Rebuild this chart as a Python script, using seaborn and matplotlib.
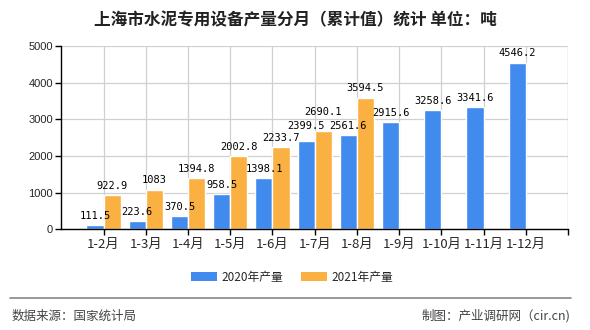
import matplotlib
matplotlib.use("Agg")
import matplotlib.pyplot as plt
from matplotlib.patches import Patch
import seaborn as sns
import pandas as pd
import numpy as np

months = ["1-2月", "1-3月", "1-4月", "1-5月", "1-6月", "1-7月", "1-8月",
          "1-9月", "1-10月", "1-11月", "1-12月"]
prod_2020 = [111.5, 223.6, 370.5, 958.5, 1398.1, 2399.5, 2561.6,
             2915.6, 3258.6, 3341.6, 4546.2]
prod_2021 = [922.9, 1083, 1394.8, 2002.8, 2233.7, 2690.1, 3594.5,
             None, None, None, None]
series_names = ["2020年产量", "2021年产量"]
y_ticks = [0, 1000, 2000, 3000, 4000, 5000]
title = "上海市水泥专用设备产量分月（累计值）统计 单位：吨"
source_left = "数据来源：国家统计局"
source_right = "制图：产业调研网（cir.cn)"

rows = []
for m, a, b in zip(months, prod_2020, prod_2021):
    rows.append({"month": m, "series": series_names[0], "value": a})
    rows.append({"month": m, "series": series_names[1],
                 "value": np.nan if b is None else b})
df = pd.DataFrame(rows)

sns.set_theme(style="white")
plt.rcParams["font.family"] = ["Noto Sans CJK SC", "DejaVu Sans"]

colors = ["#418AEE", "#FBB142"]

fig = plt.figure(figsize=(5.9, 3.3), dpi=100)
ax = fig.add_axes([61.3 / 590, 1 - 229.3 / 330, (568 - 61.3) / 590, (229.3 - 46) / 330])

sns.barplot(data=df, x="month", y="value", hue="series", order=months,
            hue_order=series_names, palette=colors, width=0.81,
            saturation=1, ax=ax, legend=False, errorbar=None)

ax.set_xlim(-1, len(months))
ax.set_ylim(0, 5000)
ax.set_yticks(y_ticks)
ax.set_yticklabels([str(t) for t in y_ticks], fontsize=8,
                   family=["Liberation Sans", "DejaVu Sans"])
ax.set_xticks(list(range(len(months) + 1)))
ax.set_xticklabels(months + [""], fontsize=9.5)
ax.set_xlabel("")
ax.set_ylabel("")

ax.set_axisbelow(True)
ax.grid(True, axis="both", color="#d0d0d0", linewidth=0.9)
for side in ["top", "right"]:
    ax.spines[side].set_visible(False)
for side in ["left", "bottom"]:
    ax.spines[side].set_color("black")
    ax.spines[side].set_linewidth(1.0)
ax.axvline(len(months), color="#d0d0d0", linewidth=0.9, zorder=0)
ax.tick_params(axis="both", direction="out", length=4, width=1,
               color="black", left=True, bottom=True, pad=2)

# data labels (extra lift in points for crowded labels around 1-7月)
label_lift = {(5, 0): 7.5, (5, 1): 9.5}
for i, (a, b) in enumerate(zip(prod_2020, prod_2021)):
    for k, (off, v) in enumerate(((-0.2, a), (0.2, b))):
        if v is None:
            continue
        txt = f"{v:g}"
        ax.annotate(txt, (i + off, v), xytext=(0, label_lift.get((i, k), 3)),
                    textcoords="offset points",
                    ha="center", va="bottom", fontsize=7.5,
                    family="DejaVu Sans Mono", color="black")

fig.text(0.5, 1 - 20 / 330, title, ha="center", va="center",
         fontsize=12, fontweight="bold", color="#222222")

handles = [Patch(facecolor=c, edgecolor="none") for c in colors]
fig.legend(handles, series_names, loc="center", bbox_to_anchor=(0.495, 1 - 277 / 330),
           ncol=2, frameon=False, fontsize=8.5, handlelength=2.2, handleheight=0.9,
           columnspacing=1.5, handletextpad=0.4)

fig.add_artist(plt.Line2D([10 / 590, 571 / 590], [1 - 298.3 / 330] * 2,
                          color="#888888", linewidth=1.2))
fig.text(12 / 590, 1 - 316 / 330, source_left, ha="left", va="center",
         fontsize=9, color="#444444")
fig.text(570 / 590, 1 - 316 / 330, source_right, ha="right", va="center",
         fontsize=9, color="#444444")

fig.savefig("out.png", dpi=100)
